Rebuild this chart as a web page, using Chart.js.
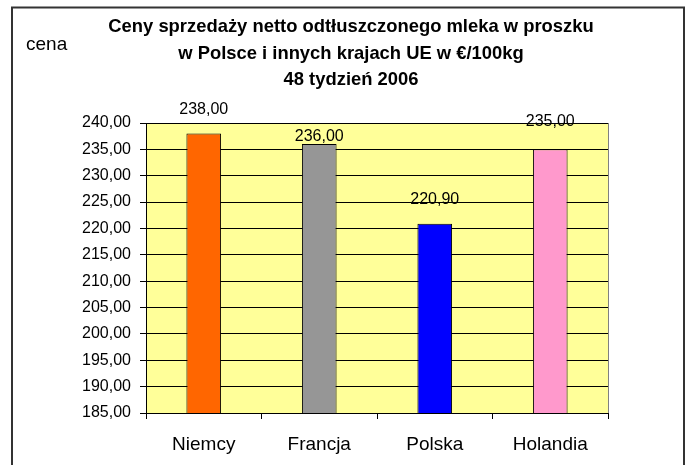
<!DOCTYPE html>
<html>
<head>
<meta charset="utf-8">
<script src="https://cdn.jsdelivr.net/npm/chart.js@4.4.0/dist/chart.umd.min.js"></script>
<style>
  body { margin: 0; background: #fff; }
  #wrap { width: 691px; height: 465px; }
</style>
</head>
<body>
<div id="wrap"><canvas id="milkChart" width="691" height="465"></canvas></div>
<script>
// data
const countries = ['Niemcy', 'Francja', 'Polska', 'Holandia'];
const prices = [238.00, 236.00, 220.90, 235.00];
const barColors = ['#FF6600', '#969696', '#0000FF', '#FF99CC'];
const titleLines = [
    'Ceny sprzedaży netto odtłuszczonego mleka w proszku',
    'w Polsce i innych krajach UE w €/100kg',
    '48 tydzień 2006'
];
const axisLabel = 'cena';
const yMin = 185, yMax = 240, yStep = 5;

const FONT = '"Liberation Sans", Arial, sans-serif';

function fmt(v) {
    return v.toFixed(2).replace('.', ',');
}

// yellow plot background + frame + titles
const decorPlugin = {
    id: 'decor',
    beforeDraw(chart) {
        const { ctx, chartArea: a } = chart;
        ctx.save();
        ctx.fillStyle = '#fff';
        ctx.fillRect(0, 0, chart.width, chart.height);
        ctx.fillStyle = '#FFFF99';
        ctx.fillRect(a.left, a.top, a.right - a.left, a.bottom - a.top);
        ctx.restore();
    },
    afterDraw(chart) {
        const { ctx, chartArea: a } = chart;
        ctx.save();
        // plot right edge
        ctx.strokeStyle = '#808080';
        ctx.lineWidth = 1;
        ctx.beginPath();
        ctx.moveTo(Math.round(a.right) + 0.5, a.top);
        ctx.lineTo(Math.round(a.right) + 0.5, a.bottom);
        ctx.stroke();
        // outer frame
        ctx.strokeStyle = '#333';
        ctx.lineWidth = 2;
        ctx.strokeRect(12, 7.5, 672, 470);
        // title
        ctx.fillStyle = '#000';
        ctx.textAlign = 'center';
        ctx.textBaseline = 'alphabetic';
        ctx.font = 'bold 18.4px ' + FONT;
        const baselines = [32, 58.5, 85];
        titleLines.forEach((t, i) => ctx.fillText(t, 351, baselines[i]));
        // axis caption
        ctx.textAlign = 'left';
        ctx.font = '19px ' + FONT;
        ctx.fillText(axisLabel, 26, 50);
        ctx.restore();
    }
};

// value labels above bars (Excel left them at uneven heights)
const valueLabels = {
    id: 'valueLabels',
    afterDatasetsDraw(chart, args, opts) {
        const { ctx } = chart;
        const meta = chart.getDatasetMeta(0);
        ctx.save();
        ctx.fillStyle = '#000';
        ctx.font = '16px ' + FONT;
        ctx.textAlign = 'center';
        ctx.textBaseline = 'alphabetic';
        meta.data.forEach((bar, i) => {
            ctx.fillText(fmt(prices[i]), bar.x, bar.y - opts.lift[i]);
        });
        ctx.restore();
    }
};

new Chart(document.getElementById('milkChart'), {
    type: 'bar',
    data: {
        labels: countries,
        datasets: [{
            data: prices,
            backgroundColor: barColors,
            borderColor: '#000',
            borderWidth: 1,
            borderSkipped: false,
            barPercentage: 0.3,
            categoryPercentage: 1
        }]
    },
    options: {
        responsive: false,
        animation: false,
        devicePixelRatio: 1,
        layout: {
            padding: { left: 0, right: 83, top: 123, bottom: 0 }
        },
        plugins: {
            legend: { display: false },
            tooltip: { enabled: false },
            title: { display: false },
            valueLabels: { lift: [19.5, 3, 19.5, 23] }
        },
        scales: {
            y: {
                min: yMin,
                max: yMax,
                afterFit(scale) { scale.width = 146; },
                ticks: {
                    stepSize: yStep,
                    color: '#000',
                    padding: 9,
                    font: { family: FONT, size: 16 },
                    callback: v => fmt(v)
                },
                grid: {
                    color: '#000',
                    lineWidth: 1,
                    tickLength: 6,
                    tickColor: '#000'
                },
                border: { display: true, color: '#000' }
            },
            x: {
                afterFit(scale) { scale.height = 465 - 413; },
                offset: true,
                ticks: {
                    color: '#000',
                    padding: 14,
                    font: { family: FONT, size: 19 }
                },
                grid: {
                    offset: true,
                    drawOnChartArea: false,
                    tickLength: 6,
                    tickColor: '#000'
                },
                border: { display: true, color: '#000' }
            }
        }
    },
    plugins: [decorPlugin, valueLabels]
});
</script>
</body>
</html>
